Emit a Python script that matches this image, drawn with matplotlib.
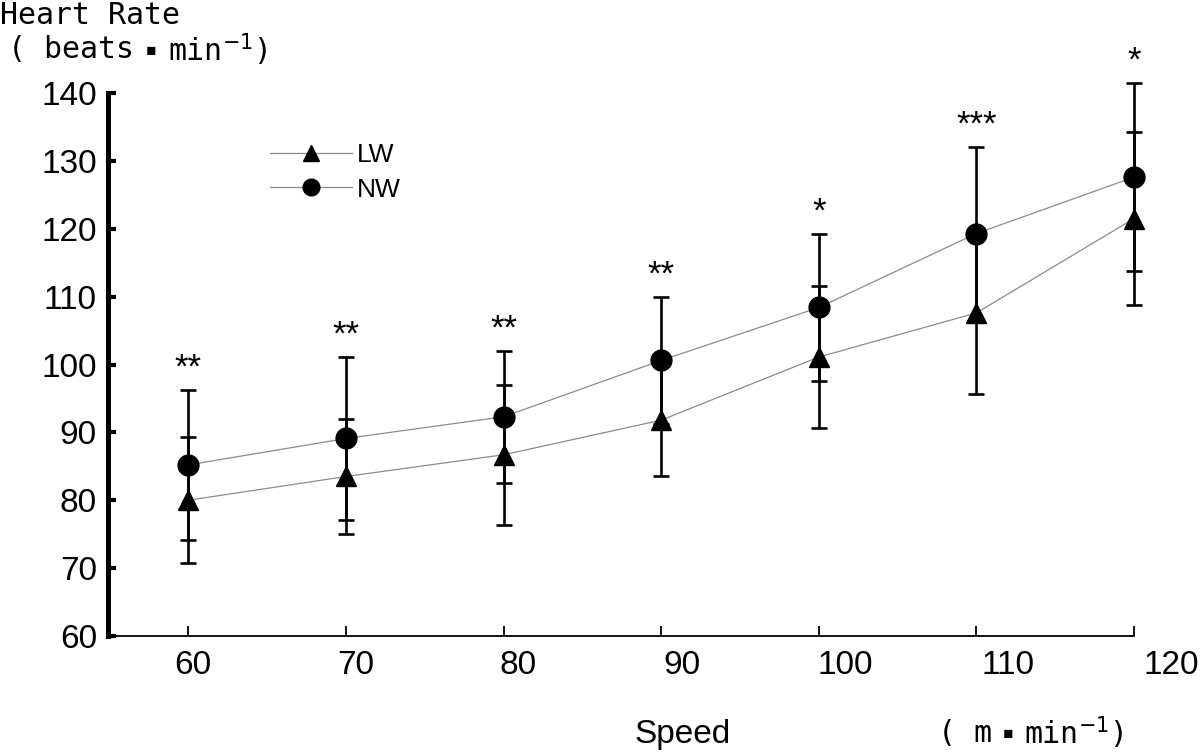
import matplotlib
matplotlib.use('Agg')
import matplotlib.pyplot as plt
from matplotlib.lines import Line2D

# Daten
speed = [60, 70, 80, 90, 100, 110, 120]
lw_mean = [80.0, 83.5, 86.7, 91.8, 101.1, 107.6, 121.5]
lw_sd = [9.3, 8.4, 10.3, 8.3, 10.4, 11.9, 12.7]
nw_mean = [85.2, 89.1, 92.3, 100.6, 108.4, 119.3, 127.6]
nw_sd = [11.0, 12.0, 9.7, 9.4, 10.8, 12.8, 13.8]
sig = ['**', '**', '**', '**', '*', '***', '*']
yticks = [60, 70, 80, 90, 100, 110, 120, 130, 140]

plt.rcParams['font.family'] = ['Liberation Sans', 'DejaVu Sans']
mono = ['DejaVu Sans Mono', 'DejaVu Sans']
grey = '#8c8c8c'

fig = plt.figure(figsize=(12, 7.54), dpi=100)
ax = fig.add_axes([108 / 1200, 1 - 636 / 754, (1134 - 108) / 1200, (636 - 93) / 754])

# Verbindungslinien
ax.plot(speed, lw_mean, color=grey, lw=0.9, zorder=1, clip_on=False)
ax.plot(speed, nw_mean, color=grey, lw=0.9, zorder=1, clip_on=False)

# Fehlerbalken
for mean, sd in [(lw_mean, lw_sd), (nw_mean, nw_sd)]:
    eb = ax.errorbar(speed, mean, yerr=sd, fmt='none', ecolor='black',
                     elinewidth=1.9, capsize=5.5, capthick=1.9, zorder=2)
    for art in eb.lines[1] + eb.lines[2]:
        art.set_clip_on(False)

# Marker
ax.plot(speed, lw_mean, linestyle='none', marker='^', ms=15, color='black',
        zorder=3, clip_on=False)
ax.plot(speed, nw_mean, linestyle='none', marker='o', ms=15, color='black',
        zorder=3, clip_on=False)

# Signifikanzsterne
for x, m, s, lab in zip(speed, nw_mean, nw_sd, sig):
    ax.annotate(lab, (x, m + s), xytext=(0, 9), textcoords='offset points',
                ha='center', va='baseline', fontsize=25, annotation_clip=False)

# Achsen
ax.set_xlim(54.9, 120)
ax.set_ylim(60, 140)
ax.set_xticks(speed)
ax.set_xticklabels([])
ax.set_yticks(yticks)
ax.spines['top'].set_visible(False)
ax.spines['right'].set_visible(False)
ax.spines['left'].set_linewidth(3.6)
ax.spines['bottom'].set_linewidth(1.3)
ax.tick_params(axis='y', direction='in', length=6, width=3, pad=8, labelsize=24)
ax.tick_params(axis='x', direction='in', length=7, width=1.3)

# x-Beschriftungen sitzen im Original etwas gestreckt rechts der Ticks
xlab_trans = ax.get_xaxis_transform()
for v in speed:
    ax.text(60.25 + (v - 60) * 1.035, -0.025, str(v), transform=xlab_trans,
            ha='center', va='top', fontsize=24, clip_on=False)

# Legende
handles = [
    Line2D([], [], color=grey, lw=0.9, marker='^', ms=12, mfc='black', mec='black'),
    Line2D([], [], color=grey, lw=0.9, marker='o', ms=12, mfc='black', mec='black'),
]
fig.legend(handles, ['LW', 'NW'], loc='upper left',
           bbox_to_anchor=(270 / 1200, 1 - 143 / 754), frameon=False,
           fontsize=19, borderpad=0, borderaxespad=0, handlelength=3.1,
           handletextpad=0.2, labelspacing=0.4)

# Beschriftungen
fig.text(0.0, 1 - 15 / 754, 'Heart Rate', family=mono, fontsize=21.5,
         ha='left', va='center')
fig.text(8 / 1200, 1 - 50 / 754, '( beats', family=mono, fontsize=21.5,
         ha='left', va='center')
fig.text(151 / 1200, 1 - 50 / 754, '\u25aa', family=mono, fontsize=15,
         ha='center', va='center')
fig.text(168 / 1200, 1 - 50 / 754, 'min$^{-1}$)', family=mono, fontsize=21.5,
         ha='left', va='center')

fig.text(683 / 1200, 1 - 735 / 754, 'Speed', fontsize=24, ha='center', va='center')
fig.text(938 / 1200, 1 - 733 / 754, '( m', family=mono, fontsize=21.5,
         ha='left', va='center')
fig.text(1008 / 1200, 1 - 733 / 754, '\u25aa', family=mono, fontsize=15,
         ha='center', va='center')
fig.text(1024 / 1200, 1 - 733 / 754, 'min$^{-1}$)', family=mono, fontsize=21.5,
         ha='left', va='center')

fig.savefig('out.png', dpi=100)
